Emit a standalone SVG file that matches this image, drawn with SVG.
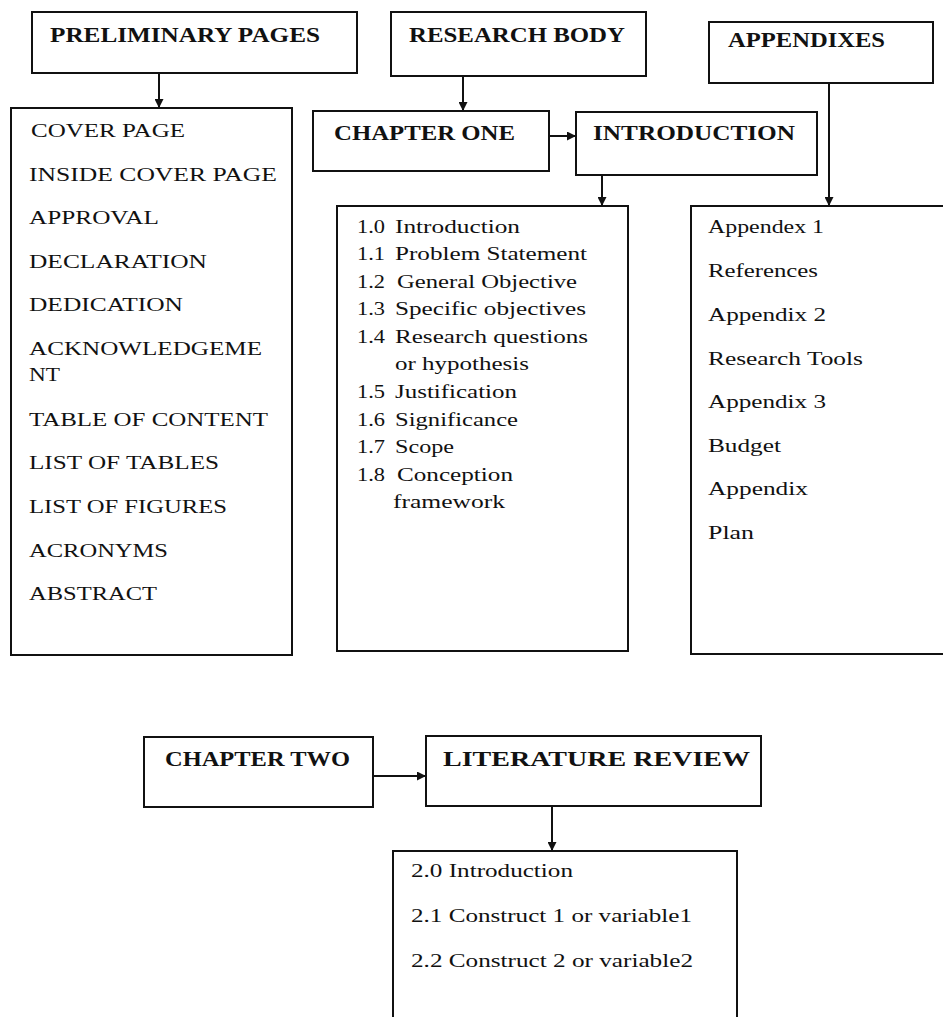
<svg xmlns="http://www.w3.org/2000/svg" width="943" height="1017" viewBox="0 0 943 1017">
<defs>
<marker id="ah" markerWidth="9" markerHeight="9" refX="8" refY="4.5" orient="auto" markerUnits="userSpaceOnUse">
<path d="M0,0 L9,4.5 L0,9 Z" fill="#111"/>
</marker>
<style>
.box{fill:#fff;stroke:#111;stroke-width:2}
.ttl{font-family:"Liberation Serif",serif;font-weight:bold;font-size:20px;fill:#111}
.txt{font-family:"Liberation Serif",serif;font-size:19px;fill:#111}
.con{stroke:#111;stroke-width:2;fill:none;marker-end:url(#ah)}
</style>
</defs>
<rect width="943" height="1017" fill="#fff"/>

<g id="preliminary">
<rect class="box" x="32" y="12" width="325" height="61"/>
<text class="ttl" x="50" y="42" textLength="270" lengthAdjust="spacingAndGlyphs">PRELIMINARY PAGES</text>
</g>
<g id="research-body">
<rect class="box" x="391" y="12" width="255" height="64"/>
<text class="ttl" x="409" y="42" textLength="216" lengthAdjust="spacingAndGlyphs">RESEARCH BODY</text>
</g>
<g id="appendixes">
<rect class="box" x="709" y="22" width="224" height="61"/>
<text class="ttl" x="728" y="47" textLength="157" lengthAdjust="spacingAndGlyphs">APPENDIXES</text>
</g>
<g id="chapter-one">
<rect class="box" x="313" y="111" width="236" height="60"/>
<text class="ttl" x="334" y="140" textLength="181" lengthAdjust="spacingAndGlyphs">CHAPTER ONE</text>
</g>
<g id="introduction">
<rect class="box" x="576" y="112" width="241" height="63"/>
<text class="ttl" x="593" y="140" textLength="202" lengthAdjust="spacingAndGlyphs">INTRODUCTION</text>
</g>

<g id="preliminary-list">
<rect class="box" x="11" y="108" width="281" height="547"/>
<text class="txt" x="31" y="137" textLength="154" lengthAdjust="spacingAndGlyphs">COVER PAGE</text>
<text class="txt" x="29" y="181" textLength="248" lengthAdjust="spacingAndGlyphs">INSIDE COVER PAGE</text>
<text class="txt" x="29" y="224" textLength="130" lengthAdjust="spacingAndGlyphs">APPROVAL</text>
<text class="txt" x="29" y="268" textLength="178" lengthAdjust="spacingAndGlyphs">DECLARATION</text>
<text class="txt" x="29" y="311" textLength="154" lengthAdjust="spacingAndGlyphs">DEDICATION</text>
<text class="txt" x="29" y="355" textLength="233" lengthAdjust="spacingAndGlyphs">ACKNOWLEDGEME</text>
<text class="txt" x="29" y="381" textLength="31" lengthAdjust="spacingAndGlyphs">NT</text>
<text class="txt" x="29" y="426" textLength="239" lengthAdjust="spacingAndGlyphs">TABLE OF CONTENT</text>
<text class="txt" x="29" y="469" textLength="190" lengthAdjust="spacingAndGlyphs">LIST OF TABLES</text>
<text class="txt" x="29" y="513" textLength="198" lengthAdjust="spacingAndGlyphs">LIST OF FIGURES</text>
<text class="txt" x="29" y="557" textLength="139" lengthAdjust="spacingAndGlyphs">ACRONYMS</text>
<text class="txt" x="29" y="600" textLength="128" lengthAdjust="spacingAndGlyphs">ABSTRACT</text>
</g>

<g id="chapter-one-list">
<rect class="box" x="337" y="206" width="291" height="445"/>
<text class="txt" x="357" y="233" textLength="28" lengthAdjust="spacingAndGlyphs">1.0</text><text class="txt" x="395" y="233" textLength="125" lengthAdjust="spacingAndGlyphs">Introduction</text>
<text class="txt" x="357" y="260" textLength="28" lengthAdjust="spacingAndGlyphs">1.1</text><text class="txt" x="395" y="260" textLength="192" lengthAdjust="spacingAndGlyphs">Problem Statement</text>
<text class="txt" x="357" y="288" textLength="28" lengthAdjust="spacingAndGlyphs">1.2</text><text class="txt" x="397" y="288" textLength="180" lengthAdjust="spacingAndGlyphs">General Objective</text>
<text class="txt" x="357" y="315" textLength="28" lengthAdjust="spacingAndGlyphs">1.3</text><text class="txt" x="395" y="315" textLength="191" lengthAdjust="spacingAndGlyphs">Specific objectives</text>
<text class="txt" x="357" y="343" textLength="28" lengthAdjust="spacingAndGlyphs">1.4</text><text class="txt" x="395" y="343" textLength="193" lengthAdjust="spacingAndGlyphs">Research questions</text>
<text class="txt" x="395" y="370" textLength="134" lengthAdjust="spacingAndGlyphs">or hypothesis</text>
<text class="txt" x="357" y="398" textLength="28" lengthAdjust="spacingAndGlyphs">1.5</text><text class="txt" x="395" y="398" textLength="122" lengthAdjust="spacingAndGlyphs">Justification</text>
<text class="txt" x="357" y="426" textLength="28" lengthAdjust="spacingAndGlyphs">1.6</text><text class="txt" x="395" y="426" textLength="123" lengthAdjust="spacingAndGlyphs">Significance</text>
<text class="txt" x="357" y="453" textLength="28" lengthAdjust="spacingAndGlyphs">1.7</text><text class="txt" x="395" y="453" textLength="59" lengthAdjust="spacingAndGlyphs">Scope</text>
<text class="txt" x="357" y="481" textLength="28" lengthAdjust="spacingAndGlyphs">1.8</text><text class="txt" x="397" y="481" textLength="116" lengthAdjust="spacingAndGlyphs">Conception</text>
<text class="txt" x="393" y="508" textLength="112" lengthAdjust="spacingAndGlyphs">framework</text>
</g>

<g id="appendix-list">
<rect class="box" x="691" y="206" width="262" height="448"/>
<text class="txt" x="708" y="233" textLength="116" lengthAdjust="spacingAndGlyphs">Appendex 1</text>
<text class="txt" x="708" y="277" textLength="110" lengthAdjust="spacingAndGlyphs">References</text>
<text class="txt" x="708" y="321" textLength="118" lengthAdjust="spacingAndGlyphs">Appendix 2</text>
<text class="txt" x="708" y="365" textLength="155" lengthAdjust="spacingAndGlyphs">Research Tools</text>
<text class="txt" x="708" y="408" textLength="118" lengthAdjust="spacingAndGlyphs">Appendix 3</text>
<text class="txt" x="708" y="452" textLength="73" lengthAdjust="spacingAndGlyphs">Budget</text>
<text class="txt" x="708" y="495" textLength="100" lengthAdjust="spacingAndGlyphs">Appendix</text>
<text class="txt" x="708" y="539" textLength="46" lengthAdjust="spacingAndGlyphs">Plan</text>
</g>

<g id="chapter-two">
<rect class="box" x="144" y="737" width="229" height="70"/>
<text class="ttl" x="165" y="766" textLength="185" lengthAdjust="spacingAndGlyphs">CHAPTER TWO</text>
</g>
<g id="literature-review">
<rect class="box" x="426" y="736" width="335" height="70"/>
<text class="ttl" x="443" y="766" textLength="307" lengthAdjust="spacingAndGlyphs">LITERATURE REVIEW</text>
</g>
<g id="chapter-two-list">
<rect class="box" x="393" y="851" width="344" height="180"/>
<text class="txt" x="411" y="877" textLength="162" lengthAdjust="spacingAndGlyphs">2.0 Introduction</text>
<text class="txt" x="411" y="922" textLength="281" lengthAdjust="spacingAndGlyphs">2.1 Construct 1 or variable1</text>
<text class="txt" x="411" y="967" textLength="282" lengthAdjust="spacingAndGlyphs">2.2 Construct 2 or variable2</text>
</g>

<g id="connectors">
<line class="con" x1="159" y1="73" x2="159" y2="107"/>
<line class="con" x1="463" y1="76" x2="463" y2="110"/>
<line class="con" x1="549" y1="136" x2="575" y2="136"/>
<line class="con" x1="602" y1="175" x2="602" y2="205"/>
<line class="con" x1="829" y1="83" x2="829" y2="205"/>
<line class="con" x1="373" y1="776" x2="425" y2="776"/>
<line class="con" x1="552" y1="806" x2="552" y2="850"/>
</g>
</svg>
